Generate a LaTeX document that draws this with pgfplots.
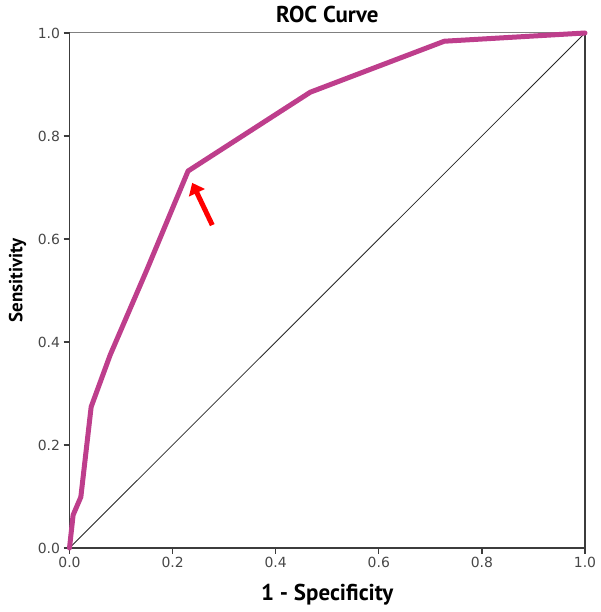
\documentclass[border=0pt]{standalone}
\usepackage{pgfplots}
\pgfplotsset{compat=1.18}
\usetikzlibrary{arrows.meta}
\usepackage{fontspec}
\setmainfont{DejaVu Sans}
\newfontfamily\labfont{PT Sans}
\definecolor{roc}{RGB}{190,62,140}
\definecolor{axgray}{RGB}{60,60,60}
\begin{document}
\begin{tikzpicture}
\useasboundingbox (0,0) rectangle (601bp,612bp);
\begin{axis}[
  at={(69.5bp,64bp)}, anchor=south west,
  width=515.5bp, height=515bp, scale only axis,
  xmin=0, xmax=1, ymin=0, ymax=1,
  axis lines=left,
  axis line style={-, draw=axgray, line width=1.3bp},
  xtick={0,0.2,0.4,0.6,0.8,1.0},
  ytick={0,0.2,0.4,0.6,0.8,1.0},
  /pgf/number format/assume math mode=true,
  /pgf/number format/fixed,
  /pgf/number format/fixed zerofill,
  /pgf/number format/precision=1,
  tick align=outside,
  major tick length=6bp,
  tick style={draw=axgray, line width=1.2bp},
  ticklabel style={font=\fontsize{14}{16}\selectfont, text=black!72},
  title={ROC Curve},
  title style={font=\labfont\bfseries\fontsize{23}{25}\selectfont, at={(axis description cs:0.5,1.0)}, anchor=base, yshift=5bp},
  xlabel={1 - Specificity},
  xlabel style={font=\labfont\bfseries\fontsize{23}{25}\selectfont, at={(axis description cs:0.5,-0.091)}, anchor=center},
  ylabel={Sensitivity},
  ylabel style={font=\labfont\bfseries\fontsize{19}{21}\selectfont, at={(axis description cs:-0.101,0.52)}, anchor=center},
  clip=false,
]
\draw[draw=black!50, line width=1bp] (rel axis cs:0,1) -- (rel axis cs:1,1);
\draw[draw=axgray, line width=1.2bp] (rel axis cs:1,1) -- (rel axis cs:1,0);
\addplot[black!85, line width=0.8bp] coordinates {(0,0) (1,1)};
\addplot[roc, line width=5bp, line join=round, line cap=round] coordinates {
  (0,0) (0.007,0.064) (0.022,0.099) (0.042,0.274) (0.079,0.375)
  (0.150,0.540) (0.230,0.732) (0.467,0.885) (0.727,0.984) (1,1)
};
\draw[red, line width=5bp, -{Triangle[length=11bp,width=17bp]}] (axis cs:0.277,0.627) -- (axis cs:0.238,0.709);
\end{axis}
\end{tikzpicture}
\end{document}
